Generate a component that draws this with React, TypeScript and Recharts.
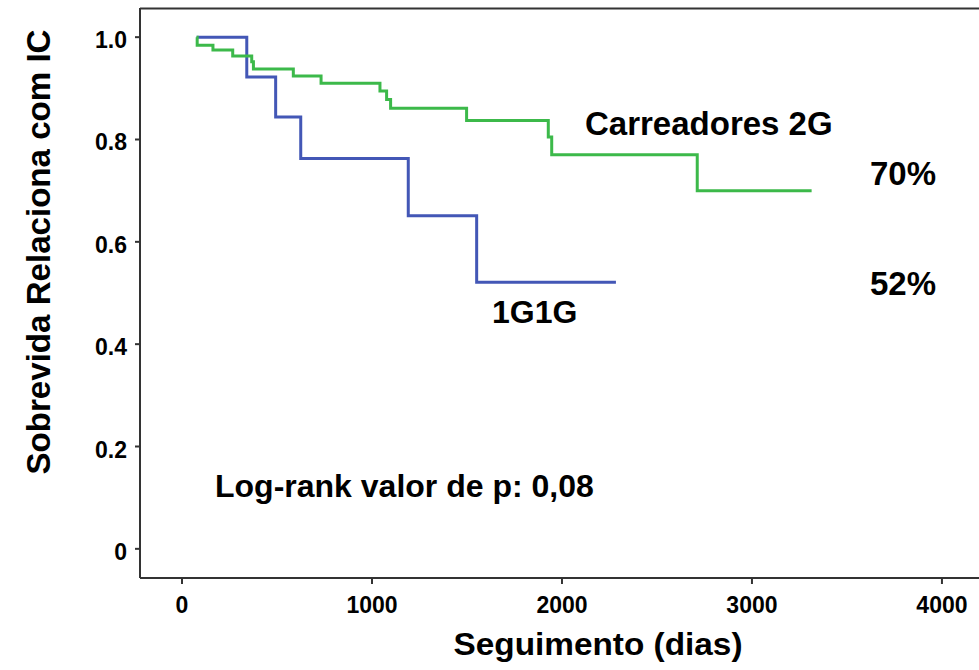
import { LineChart, Line, XAxis, YAxis } from "recharts";

// Kaplan-Meier steps (days, survival)
const daysCarreadores = [77, 80, 163, 267, 367, 376, 586, 732, 1042, 1077, 1098, 1498, 1928, 1946, 2712, 3314];
const survCarreadores = [1.0, 0.984, 0.975, 0.963, 0.952, 0.938, 0.924, 0.91, 0.895, 0.878, 0.861, 0.837, 0.805, 0.77, 0.7, 0.7];

const days1G1G = [77, 341, 493, 625, 1191, 1551, 2284];
const surv1G1G = [1.0, 0.922, 0.844, 0.763, 0.651, 0.521, 0.521];

const xTicks = [0, 1000, 2000, 3000, 4000];
const yTicks = [0, 0.2, 0.4, 0.6, 0.8, 1.0];
const yTickLabels = ["0", "0.2", "0.4", "0.6", "0.8", "1.0"];

const GREEN = "#3cb94a";
const BLUE = "#4357b6";
const AXIS = "#333333";
const FONT = "'Liberation Sans', Arial, Helvetica, sans-serif";

const W = 979;
const H = 670;

const toPoints = (xs: number[], ys: number[]) => xs.map((d, i) => ({ dias: d, s: ys[i] }));

const XTick = ({ x, y, payload }: any) => (
  <text x={x} y={y} dy={29} textAnchor="middle" fontSize={23} fontWeight="bold" fill="#000" fontFamily={FONT}>
    {payload.value}
  </text>
);

const YTick = ({ x, y, payload }: any) => (
  <text x={x} y={y} dy={11} textAnchor="end" fontSize={23} fontWeight="bold" fill="#000" fontFamily={FONT}>
    {yTickLabels[yTicks.indexOf(payload.value)] ?? payload.value}
  </text>
);

const App = () => {
  const greenData = toPoints(daysCarreadores, survCarreadores);
  const blueData = toPoints(days1G1G, surv1G1G);

  return (
    <div style={{ position: "absolute", left: 0, top: 0, width: W, height: H, background: "#fff" }}>
      <LineChart width={W} height={H} margin={{ top: 8, right: 0, bottom: 0, left: 0 }}>
        <XAxis
          type="number"
          dataKey="dias"
          domain={[-221, 4195]}
          ticks={xTicks}
          allowDataOverflow
          height={92}
          stroke={AXIS}
          strokeWidth={2}
          tickSize={6}
          tickMargin={0}
          tick={<XTick />}
        />
        <YAxis
          type="number"
          dataKey="s"
          domain={[-0.057, 1.057]}
          ticks={yTicks}
          allowDataOverflow
          width={140}
          stroke={AXIS}
          strokeWidth={2}
          tickSize={5}
          tickMargin={8}
          tick={<YTick />}
        />
        <Line
          data={blueData}
          dataKey="s"
          type="stepAfter"
          stroke={BLUE}
          strokeWidth={3}
          dot={false}
          isAnimationActive={false}
        />
        <Line
          data={greenData}
          dataKey="s"
          type="stepAfter"
          stroke={GREEN}
          strokeWidth={3}
          dot={false}
          isAnimationActive={false}
        />
      </LineChart>
      <svg
        width={W}
        height={H}
        style={{ position: "absolute", left: 0, top: 0, pointerEvents: "none" }}
        fontFamily={FONT}
        fontWeight="bold"
      >
        <line x1={140} y1={8.5} x2={W} y2={8.5} stroke={AXIS} strokeWidth={2} />
        <text x={50} y={252} fontSize={33} textAnchor="middle" transform="rotate(-90 50 252)" textLength={445} lengthAdjust="spacingAndGlyphs">
          Sobrevida Relaciona com IC
        </text>
        <text x={598} y={655} fontSize={32} textAnchor="middle" textLength={289} lengthAdjust="spacingAndGlyphs">
          Seguimento (dias)
        </text>
        <text x={585} y={135} fontSize={33}>Carreadores 2G</text>
        <text x={870} y={185} fontSize={33}>70%</text>
        <text x={870} y={295} fontSize={33}>52%</text>
        <text x={492} y={323} fontSize={32}>1G1G</text>
        <text x={215} y={497} fontSize={32}>Log-rank valor de p: 0,08</text>
      </svg>
    </div>
  );
};

export default App;
